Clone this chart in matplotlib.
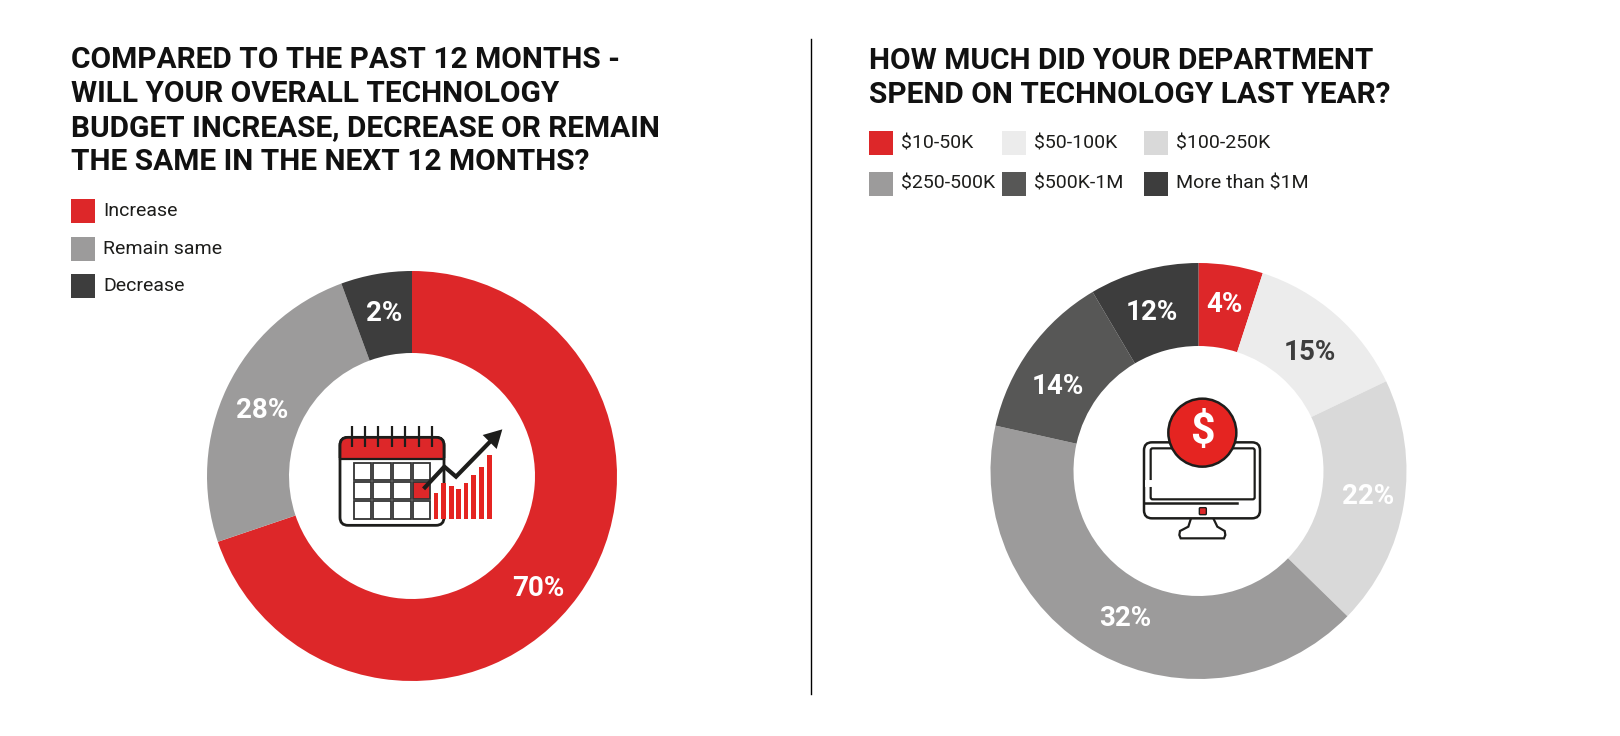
import matplotlib
matplotlib.use("Agg")
from matplotlib import pyplot as plt
from matplotlib.patches import Circle, FancyBboxPatch, Polygon, Rectangle

plt.rcParams['font.family'] = ['Roboto', 'DejaVu Sans']

RED = '#dd2729'
DARK = '#3d3d3d'
LINE = '#1d1d1b'

title_left = ['COMPARED TO THE PAST 12 MONTHS -', 'WILL YOUR OVERALL TECHNOLOGY',
              'BUDGET INCREASE, DECREASE OR REMAIN', 'THE SAME IN THE NEXT 12 MONTHS?']
title_right = ['HOW MUCH DID YOUR DEPARTMENT', 'SPEND ON TECHNOLOGY LAST YEAR?']

budget_names = ['Increase', 'Remain same', 'Decrease']
# slice sizes as drawn in the picture, they do not follow the printed labels
budget_sizes = [69.8, 24.6, 5.6]
budget_labels = ['70%', '28%', '2%']
budget_colors = [RED, '#9c9b9b', DARK]

spend_names = ['$10-50K', '$50-100K', '$100-250K', '$250-500K', '$500K-1M', 'More than $1M']
spend_sizes = [5.0, 12.9, 19.4, 41.2, 13.0, 8.5]
spend_labels = ['4%', '15%', '22%', '32%', '14%', '12%']
spend_colors = [RED, '#ececec', '#d9d9d9', '#9c9b9b', '#575756', DARK]
spend_label_colors = ['white', DARK, 'white', 'white', 'white', 'white']

chart_bars = [250, 218, 228, 236, 218, 196, 170, 136]

W, H = 1620, 736
fig = plt.figure(figsize=(W / 100, H / 100), dpi=100, facecolor='white')
bg = fig.add_axes([0, 0, 1, 1])
bg.set_xlim(0, W)
bg.set_ylim(H, 0)
bg.axis('off')


def donut(cx, cy, r, inner, sizes, colors, labels, label_pos, label_colors):
    ax = fig.add_axes([(cx - r) / W, 1 - (cy + r) / H, 2 * r / W, 2 * r / H])
    ax.pie(sizes, colors=colors, startangle=90, counterclock=False, radius=1,
           wedgeprops={'width': 1 - inner / r})
    ax.set_xlim(-1, 1)
    ax.set_ylim(-1, 1)
    # labels sit off the slice centres in the original
    for label, (x, y), col in zip(labels, label_pos, label_colors):
        fig.text(x / W, 1 - y / H, label, color=col, ha='center', va='center',
                 fontsize=20, fontweight='bold')


def legend_box(x, y, name, color, size=24):
    bg.add_patch(Rectangle((x, y - size / 2), size, size, color=color, lw=0))
    bg.text(x + size + 8, y, name, fontsize=14, va='center', ha='left', color='#1d1d1b')


def calendar_icon():
    ox, oy = 320, 410
    px = lambda v: ox + v / 3
    py = lambda v: oy + v / 3
    bg.add_patch(FancyBboxPatch((px(60) + 8, py(82) + 8), 104 - 16, 88 - 16, boxstyle='round,pad=8',
                                fc='white', ec=LINE, lw=2, zorder=3))
    top = FancyBboxPatch((px(60) + 8, py(82) + 8), 104 - 16, 40, boxstyle='round,pad=8',
                         fc=RED, ec=LINE, lw=2, zorder=4)
    bg.add_patch(top)
    top.set_clip_path(Rectangle((px(55), py(78)), 115, py(145) - py(78), transform=bg.transData))
    bg.plot([px(60), px(372)], [py(146), py(146)], color=LINE, lw=1.6, zorder=5)
    for x in [95, 135, 175, 215, 255, 297, 335]:
        bg.plot([px(x), px(x)], [py(48), py(110)], color=LINE, lw=1.6, zorder=6, solid_capstyle='butt')
    for i, x in enumerate([102, 160, 220, 279]):
        for j, y in enumerate([158, 216, 274]):
            fill = RED if (i, j) == (3, 1) else 'white'
            bg.add_patch(Rectangle((px(x), py(y)), 52 / 3, 52 / 3, fc=fill, ec='#333333', lw=1.3, zorder=6))
    for x, t in zip([348, 371, 394, 416, 438, 461, 485, 509], chart_bars):
        bg.add_patch(Rectangle((px(x) - 2.4, py(t)), 4.8, py(326) - py(t), fc='#e52421', lw=0, zorder=7))
    bg.plot([px(315), px(373), px(408), px(520)], [py(232), py(170), py(200), py(85)],
            color=LINE, lw=3, zorder=8, solid_joinstyle='miter')
    bg.add_patch(Polygon([(px(547), py(58)), (px(488), py(75)), (px(530), py(117))], fc=LINE, lw=0, zorder=8))


def monitor_icon():
    ox, oy = 1130, 385
    px = lambda v: ox + v / 3
    py = lambda v: oy + v / 3
    bg.add_patch(FancyBboxPatch((px(42) + 8, py(172) + 8), 116 - 16, 76 - 16, boxstyle='round,pad=8',
                                fc='white', ec=LINE, lw=1.8, zorder=3))
    bg.add_patch(FancyBboxPatch((px(62) + 2, py(190) + 2), 104 - 4, 51 - 4, boxstyle='round,pad=2',
                                fc='white', ec=LINE, lw=1.6, zorder=3))
    bg.plot([px(55), px(68)], [py(295), py(295)], color='white', lw=5, zorder=4)
    bg.plot([px(42), px(322)], [py(355), py(355)], color=LINE, lw=1.8, zorder=4)
    bg.add_patch(FancyBboxPatch((px(208) + 1, py(368) + 1), 5, 5, boxstyle='round,pad=1',
                                fc=RED, ec=LINE, lw=1, zorder=4))
    stand_x = [183, 175, 150, 148, 152, 282, 286, 284, 262, 250]
    stand_y = [400, 425, 438, 450, 460, 460, 450, 438, 425, 400]
    bg.add_patch(Polygon([(px(x), py(y)) for x, y in zip(stand_x, stand_y)], closed=False,
                         fc='white', ec=LINE, lw=1.6, zorder=2))
    bg.add_patch(Circle((px(217), py(143)), 34, fc='#e52421', ec=LINE, lw=1.8, zorder=5))
    bg.text(px(217), py(143), '$', color='white', fontsize=31, fontweight='bold',
            ha='center', va='center', zorder=6)


for i, line in enumerate(title_left):
    bg.text(71, 60 + i * 34, line, fontsize=21.5, fontweight='bold', color='#111111', va='center')
for i, line in enumerate(title_right):
    bg.text(869, 61 + i * 34, line, fontsize=21.5, fontweight='bold', color='#111111', va='center')

for y, name, col in zip([211, 249, 286], budget_names, budget_colors):
    legend_box(71, y, name, col)

spend_x = [869, 869 + 133, 869 + 275]
spend_y = [143, 184]
for i, (name, col) in enumerate(zip(spend_names, spend_colors)):
    legend_box(spend_x[i % 3], spend_y[i // 3], name, col)

bg.plot([811, 811], [39, 694], color='black', lw=1)

donut(412, 476, 205, 123, budget_sizes, budget_colors, budget_labels,
      [(538, 589), (262, 411), (384, 314)], ['white'] * 3)
donut(1198.5, 471, 208, 125, spend_sizes, spend_colors, spend_labels,
      [(1224, 305), (1310, 352), (1368, 496), (1125, 618), (1058, 386), (1152, 313)],
      spend_label_colors)
calendar_icon()
monitor_icon()

fig.savefig('out.png', dpi=100)
